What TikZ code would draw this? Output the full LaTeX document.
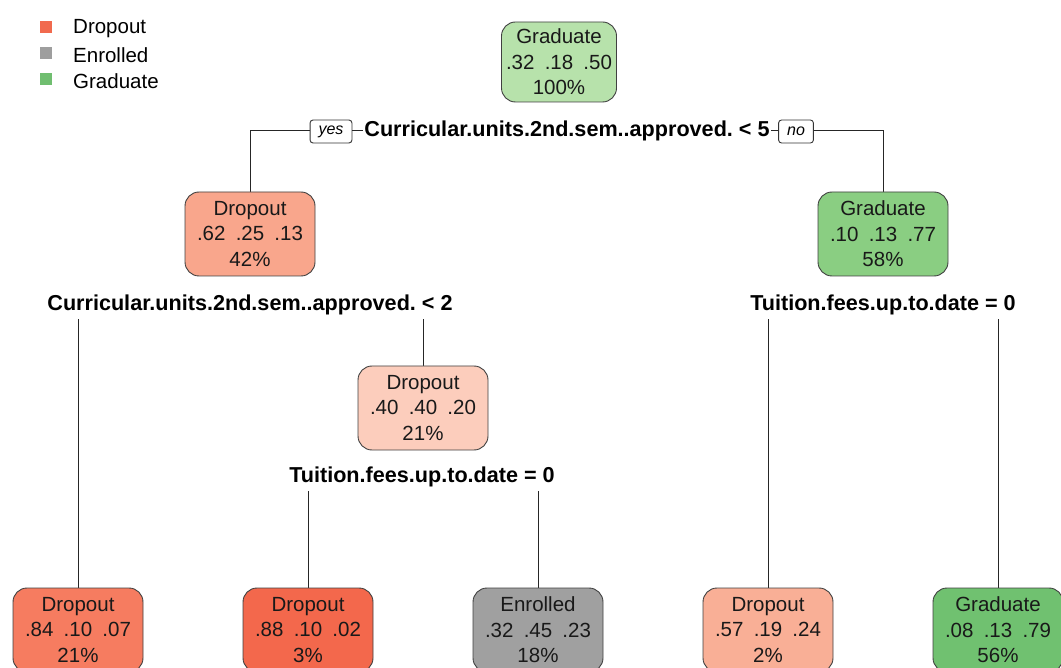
\documentclass[tikz,border=0pt]{standalone}
\usepackage{fontspec}
\setmainfont{Liberation Sans}
\usepackage{tikz}
\usetikzlibrary{positioning,backgrounds}
\definecolor{gradA}{RGB}{183,226,171}
\definecolor{gradB}{RGB}{138,206,130}
\definecolor{gradC}{RGB}{112,193,112}
\definecolor{dropA}{RGB}{249,166,140}
\definecolor{dropB}{RGB}{252,205,188}
\definecolor{dropC}{RGB}{246,124,96}
\definecolor{dropD}{RGB}{243,104,76}
\definecolor{dropE}{RGB}{249,175,150}
\definecolor{enrA}{RGB}{160,160,160}
\definecolor{legdrop}{RGB}{241,106,78}
\definecolor{legenr}{RGB}{158,158,158}
\definecolor{leggrad}{RGB}{112,190,112}
\tikzstyle{tnode}=[rectangle, draw=black!75, line width=0.9pt, rounded corners=14pt, align=center, text=black!90, minimum width=130pt, minimum height=84pt, inner sep=2pt, font=\fontsize{20.5}{25.5}\selectfont]
\tikzstyle{split}=[fill=white, inner xsep=1pt, inner ysep=4pt, font=\fontsize{21.6}{24}\selectfont\bfseries]
\tikzstyle{answer}=[rectangle, draw=black!80, line width=0.9pt, rounded corners=3pt, fill=white, inner xsep=8.5pt, minimum height=23pt, font=\fontsize{16}{16}\selectfont\itshape]
\tikzstyle{legbox}=[rectangle, minimum size=12pt, inner sep=0pt]
\tikzstyle{legtext}=[anchor=west, inner sep=0pt, font=\fontsize{20.5}{20.5}\selectfont]
\tikzstyle{branch}=[draw=black!85, line width=1pt]
\newcommand{\gp}{\hspace{0.5em}}
\frenchspacing

\begin{document}
\begin{tikzpicture}[x=1pt, y=-1pt]
        \useasboundingbox (0,0) rectangle (1061,668);

        % legend
        \node(legD)[legbox, fill=legdrop] at (46,27) {};
        \node(legE)[legbox, fill=legenr] at (46,53) {};
        \node(legG)[legbox, fill=leggrad] at (46,79) {};
        \node(legDt)[legtext] at (73,29) {Dropout};
        \node(legEt)[legtext] at (73,55) {Enrolled};
        \node(legGt)[legtext] at (73,81) {Graduate};

        % tree
        \node(root)[tnode, fill=gradA, minimum width=115pt, minimum height=80pt] at (559,62) {
            Graduate\\.32\gp.18\gp.50\\100\%
        };
        \node(rootsplit)[split] at (567,131) {Curricular.units.2nd.sem..approved. < 5};
        \node(yes)[answer] at (331,131.5) {yes};
        \node(no)[answer] at (796,131.5) {no};

        \node(left)[tnode, fill=dropA] at (250,234) {
            Dropout\\.62\gp.25\gp.13\\42\%
        };
        \node(right)[tnode, fill=gradB] at (883,234) {
            Graduate\\.10\gp.13\gp.77\\58\%
        };

        \node(leftsplit)[split] at (250,305) {Curricular.units.2nd.sem..approved. < 2};
        \node(rightsplit)[split] at (883,305) {Tuition.fees.up.to.date = 0};

        \node(mid)[tnode, fill=dropB] at (423,408) {
            Dropout\\.40\gp.40\gp.20\\21\%
        };
        \node(midsplit)[split] at (422,477) {Tuition.fees.up.to.date = 0};

        \node(leafA)[tnode, fill=dropC] at (78,630) {
            Dropout\\.84\gp.10\gp.07\\21\%
        };
        \node(leafB)[tnode, fill=dropD] at (308,630) {
            Dropout\\.88\gp.10\gp.02\\3\%
        };
        \node(leafC)[tnode, fill=enrA] at (538,630) {
            Enrolled\\.32\gp.45\gp.23\\18\%
        };
        \node(leafD)[tnode, fill=dropE] at (768,630) {
            Dropout\\.57\gp.19\gp.24\\2\%
        };
        \node(leafE)[tnode, fill=gradC] at (998,630) {
            Graduate\\.08\gp.13\gp.79\\56\%
        };

        \begin{scope}[on background layer]
            \draw[branch] (rootsplit) -| (left);
            \draw[branch] (rootsplit) -| (right);
            \draw[branch] (leftsplit) -| (leafA);
            \draw[branch] (leftsplit) -| (mid);
            \draw[branch] (midsplit) -| (leafB);
            \draw[branch] (midsplit) -| (leafC);
            \draw[branch] (rightsplit) -| (leafD);
            \draw[branch] (rightsplit) -| (leafE);
        \end{scope}
    \end{tikzpicture}
\end{document}
